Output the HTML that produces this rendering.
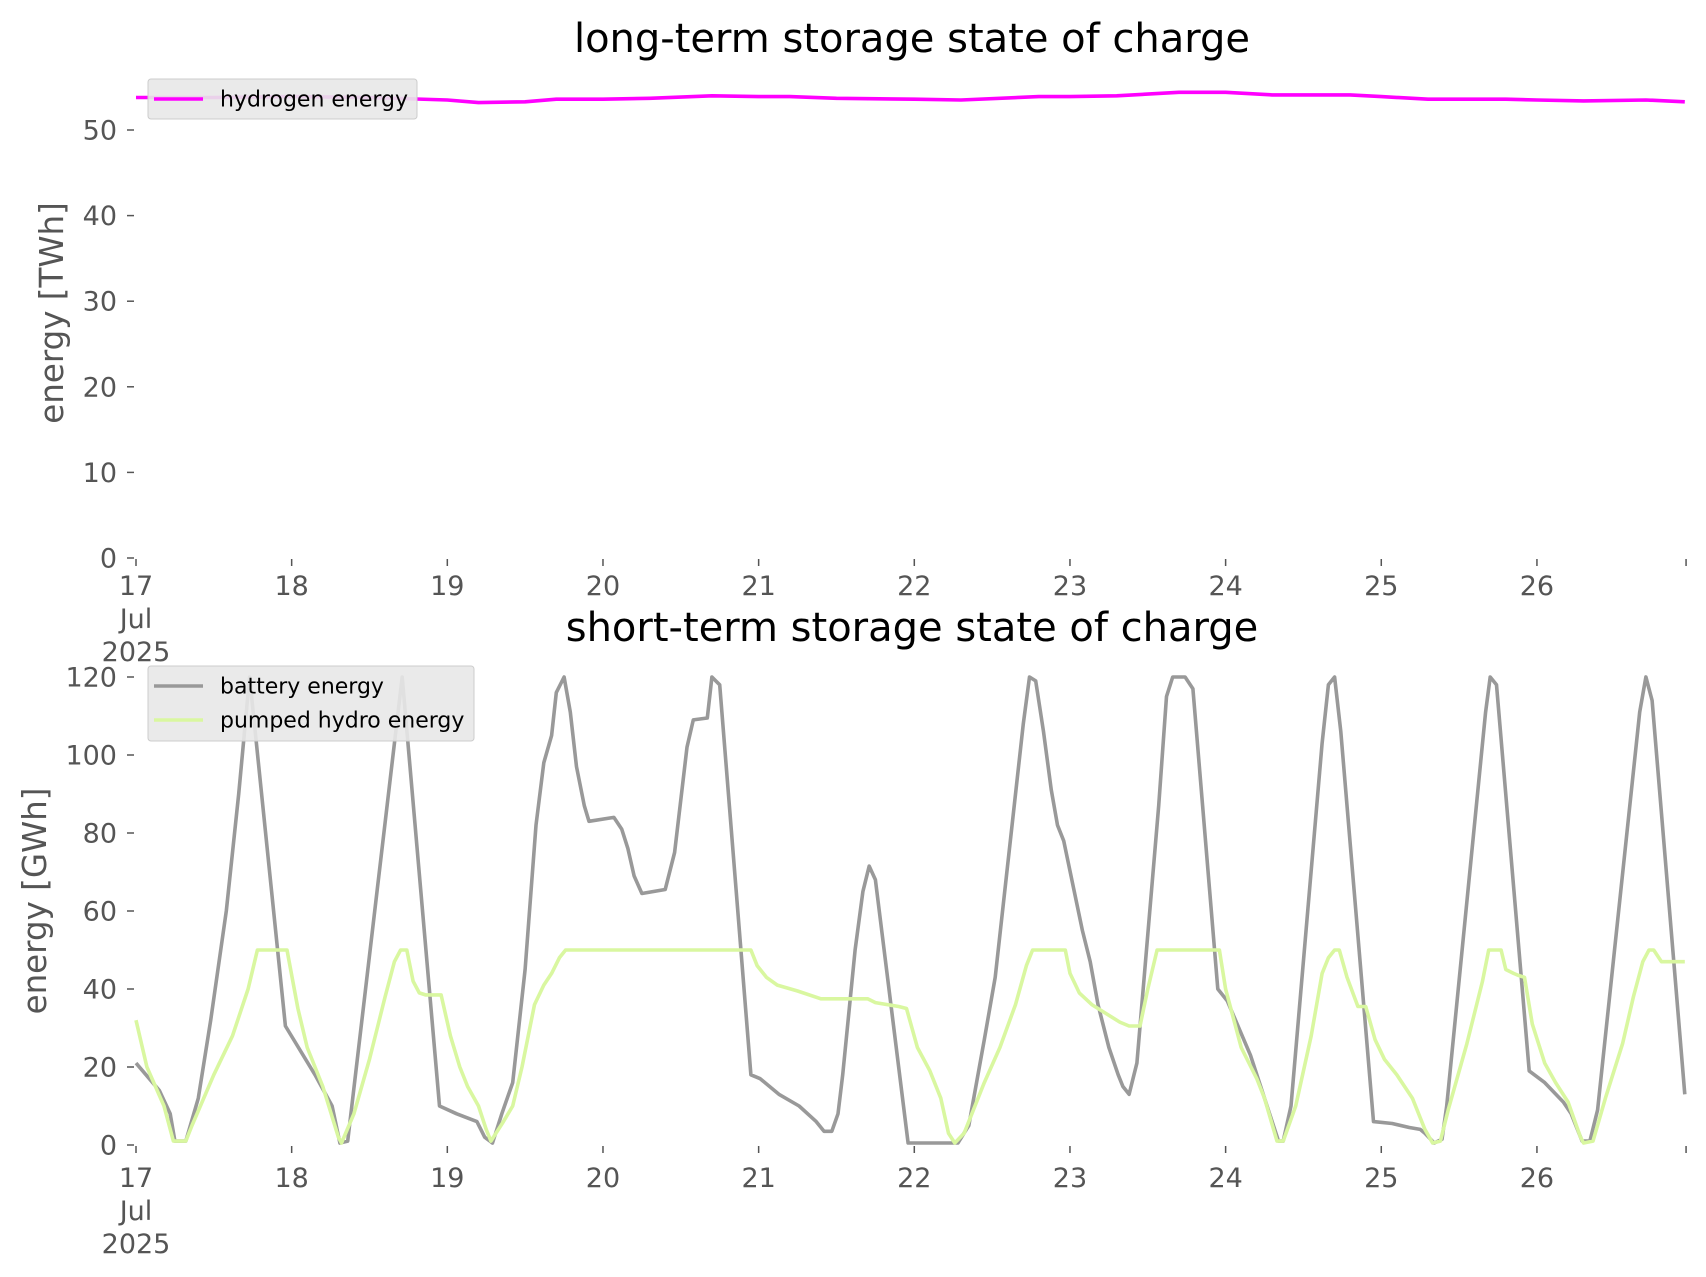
<!DOCTYPE html>
<html><head><meta charset="utf-8"><title>storage state of charge</title>
<style>
html,body{margin:0;padding:0;background:#fff;}
svg{display:block;font-family:"DejaVu Sans","Liberation Sans",sans-serif;}
</style></head>
<body>
<svg id="chart" width="1706" height="1277" viewBox="0 0 1706 1277" xmlns="http://www.w3.org/2000/svg">
<text x="912" y="52" font-size="40" text-anchor="middle" fill="#000">long-term storage state of charge</text>
<text x="0" y="0" font-size="32.5" text-anchor="middle" fill="#555" transform="translate(63,313) rotate(-90)">energy [TWh]</text>
<text x="912" y="641" font-size="40" text-anchor="middle" fill="#000">short-term storage state of charge</text>
<text x="0" y="0" font-size="32.5" text-anchor="middle" fill="#555" transform="translate(46,901) rotate(-90)">energy [GWh]</text>
<g id="top"></g>
<g id="bottom"></g>
</svg>
<script>
// ---- data (x in days since 17 Jul 2025 00:00) ----
const xTickLabels = ["17","18","19","20","21","22","23","24","25","26"];
const topYTicks = [0,10,20,30,40,50];
const bottomYTicks = [0,20,40,60,80,100,120];
const hydrogenX = [0,0.5,1,1.5,2,2.2,2.5,2.7,3,3.3,3.7,4,4.2,4.5,5,5.3,5.8,6,6.3,6.7,7,7.3,7.8,8,8.3,8.8,9,9.3,9.7,9.95];
const hydrogenY = [53.8,53.8,53.9,53.8,53.5,53.2,53.3,53.6,53.6,53.7,54.0,53.9,53.9,53.7,53.6,53.5,53.9,53.9,54.0,54.4,54.4,54.1,54.1,53.9,53.6,53.6,53.5,53.4,53.5,53.3];
const batteryX = [0,0.15,0.22,0.25,0.32,0.4,0.48,0.58,0.66,0.73,0.96,1.15,1.26,1.31,1.36,1.71,1.95,2.06,2.19,2.24,2.29,2.35,2.42,2.5,2.57,2.62,2.67,2.7,2.75,2.79,2.83,2.88,2.91,3.07,3.12,3.16,3.2,3.25,3.4,3.46,3.54,3.58,3.67,3.7,3.75,3.95,4.01,4.13,4.26,4.37,4.42,4.47,4.51,4.54,4.62,4.67,4.71,4.75,4.96,5.28,5.35,5.45,5.52,5.7,5.74,5.78,5.83,5.88,5.92,5.96,6.08,6.13,6.18,6.25,6.31,6.34,6.38,6.43,6.57,6.62,6.66,6.74,6.79,6.95,7.01,7.16,7.25,7.34,7.37,7.42,7.62,7.66,7.7,7.74,7.95,8.07,8.18,8.25,8.28,8.34,8.39,8.42,8.67,8.7,8.74,8.95,9.05,9.17,9.22,9.29,9.34,9.39,9.66,9.7,9.74,9.95];
const batteryY = [21,14,8,1,1,12,32,60,90,120,30.5,18,10,0.5,1,120,10,8,6,2,0.5,8,16,45,82,98,105,116,120,111,97,87,83,84,81,76,69,64.5,65.5,75,102,109,109.5,120,118,18,17,13,10,6,3.5,3.5,8,18,50,65,71.5,68,0.5,0.5,5,27,43,108,120,119,106,91,82,78,55,47,36,25,18,15,13,21,87,115,120,120,117,40,37,23,12,1,1,10,103,118,120,106,6,5.5,4.5,4,3,0.5,1.5,10,111,120,118,19,16,11,8,1,1,9,111,120,114,13];
const hydroX = [0,0.07,0.18,0.24,0.32,0.36,0.5,0.62,0.72,0.78,0.97,1.04,1.1,1.2,1.3,1.32,1.4,1.5,1.6,1.66,1.7,1.74,1.78,1.82,1.86,1.96,2.02,2.08,2.13,2.2,2.25,2.28,2.36,2.42,2.48,2.56,2.62,2.67,2.72,2.76,3.95,3.99,4.05,4.12,4.25,4.4,4.7,4.75,4.9,4.95,5.02,5.1,5.17,5.22,5.26,5.32,5.45,5.55,5.65,5.72,5.76,5.97,6.0,6.06,6.14,6.22,6.32,6.38,6.45,6.5,6.56,6.96,7.0,7.1,7.2,7.25,7.33,7.37,7.45,7.55,7.62,7.66,7.7,7.73,7.78,7.85,7.9,7.96,8.02,8.1,8.2,8.28,8.33,8.38,8.43,8.55,8.65,8.69,8.77,8.8,8.85,8.88,8.92,8.97,9.05,9.12,9.2,9.28,9.3,9.36,9.44,9.55,9.62,9.68,9.72,9.75,9.8,9.95];
const hydroY = [32,20,10,1,1,5,18,28,40,50,50,35,25,15,2,0.5,8,22,38,47,50,50,42,39,38.5,38.5,28,20,15,10,4,1,6,10,20,36,41,44,48,50,50,46,43,41,39.5,37.5,37.5,36.5,35.5,35,25,19,12,3,0.5,3,16,25,36,46,50,50,44,39,36,34,31.5,30.5,30.5,40,50,50,40,25,17,12,1,1,10,28,44,48,50,50,43,35.5,35.5,27,22,18,12,4,0.5,1,9,26,42,50,50,45,44,43.5,43,31,21,16,11,2,0.5,1,12,26,38,47,50,50,47,47];
// ---- layout ----
const NS="http://www.w3.org/2000/svg";
const X0=136, DAY=155.66, XMAX=9.958;
function xs(d){return X0+d*DAY;}
const topY=v=>558-(v/50)*428;
const botY=v=>1145-(v/120)*468;
function mk(tag,attrs,parent){const e=document.createElementNS(NS,tag);for(const k in attrs)e.setAttribute(k,attrs[k]);parent.appendChild(e);return e;}
function axes(g,ys,ticks,y0,dateY){
  ticks.forEach(t=>{
    const y=ys(t);
    const l=mk('line',{x1:127,x2:134,y1:y,y2:y,stroke:'#555','stroke-width':1.5},g);
    
    
    const tx=mk('text',{x:117,y:y+9.5,'font-size':27,'text-anchor':'end',fill:'#555'},g);
    
    
    tx.textContent=t;
  });
  xTickLabels.forEach((lab,i)=>{
    const x=xs(i);
    const l=mk('line',{x1:x,x2:x,y1:y0+1,y2:y0+8,stroke:'#555','stroke-width':1.5},g);
    
    
    const tx=mk('text',{x:x,y:dateY,'font-size':27,'text-anchor':'middle',fill:'#555'},g);
    
    
    tx.textContent=lab;
    if(i===0){
      ['Jul','2025'].forEach((s,k)=>{
        const t2=mk('text',{x:x,y:dateY+33*(k+1),'font-size':27,'text-anchor':'middle',fill:'#555'},g);
        
        
        t2.textContent=s;
      });
    }
  });
  const xe=xs(XMAX);
  const l=mk('line',{x1:xe,x2:xe,y1:y0+1,y2:y0+8,stroke:'#555','stroke-width':1.5},g);
  
  
}
function series(g,X,Y,ys,color,name){
  const d=X.map((x,i)=>(i?'L':'M')+xs(x).toFixed(1)+','+ys(Y[i]).toFixed(1)).join('');
  const p=mk('path',{d:d,fill:'none',stroke:color,'stroke-width':3.6,'stroke-linejoin':'round'},g);
  
  
}
function legend(g,x,y,w,h,items){
  const r=mk('rect',{x:x,y:y,width:w,height:h,rx:3,fill:'#e8e8e8','fill-opacity':0.9,stroke:'#cccccc','stroke-width':1},g);
  
  
  items.forEach((it,i)=>{
    const cy=y+20+i*34;
    const l=mk('line',{x1:x+6,x2:x+55,y1:cy,y2:cy,stroke:it[1],'stroke-width':3.6},g);
    
    
    const t=mk('text',{x:x+72,y:cy+7.5,'font-size':22,fill:'#000'},g);
    
    
    t.textContent=it[0];
  });
}
const gt=document.getElementById('top'), gb=document.getElementById('bottom');
axes(gt,topY,topYTicks,558,595);
series(gt,hydrogenX,hydrogenY,topY,'#ff00ff','hydrogen-line');
legend(gt,148,79,269,40,[['hydrogen energy','#ff00ff']]);
axes(gb,botY,bottomYTicks,1145,1187);
series(gb,batteryX,batteryY,botY,'#999999','battery-line');
series(gb,hydroX,hydroY,botY,'#d9f7a0','pumped-hydro-line');
legend(gb,148,666,326,75,[['battery energy','#999999'],['pumped hydro energy','#d9f7a0']]);
</script>
</body></html>
